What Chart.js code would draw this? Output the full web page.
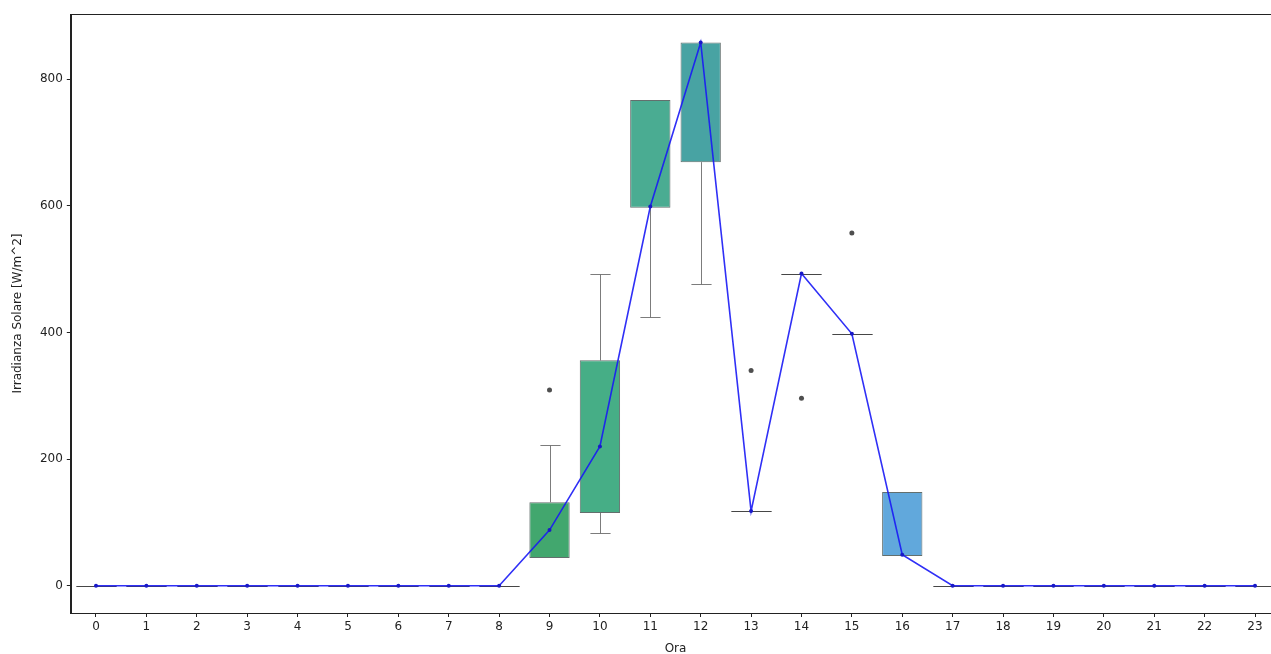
<!DOCTYPE html>
<html>
<head>
<meta charset="utf-8">
<script src="https://cdn.jsdelivr.net/npm/chart.js@4/dist/chart.umd.min.js"></script>
<style>
  html, body { margin: 0; padding: 0; background: #fff; overflow: hidden; width: 1271px; height: 654px; }
  #wrap { position: absolute; left: 0; top: 0; width: 1290px; height: 670px; }
</style>
</head>
<body>
<div id="wrap"><canvas id="c" width="1290" height="670"></canvas></div>
<script>
// Hourly solar irradiance distribution (box plot) with the median profile
const hours = ['0','1','2','3','4','5','6','7','8','9','10','11','12','13','14','15','16','17','18','19','20','21','22','23'];
const q1        = [0,0,0,0,0,0,0,0,0, 44,115,597,669,118,493,398, 47,0,0,0,0,0,0,0];
const q3        = [0,0,0,0,0,0,0,0,0,132,356,767,858,118,493,398,148,0,0,0,0,0,0,0];
const medians   = [0,0,0,0,0,0,0,0,0, 88,220,599,858,118,493,398, 49,0,0,0,0,0,0,0];
const whiskerLo = [0,0,0,0,0,0,0,0,0, 44, 83,425,476,118,493,398, 47,0,0,0,0,0,0,0];
const whiskerHi = [0,0,0,0,0,0,0,0,0,222,493,767,858,118,493,398,148,0,0,0,0,0,0,0];
const outlierHours  = ['9', '13', '14', '15'];
const outlierValues = [309, 340, 296, 557];
const yTicks = [0, 200, 400, 600, 800];

const boxColors = hours.map((h, i) => {
  const pal = { 9: 'rgba(56,162,102,0.95)', 10: 'rgba(60,170,128,0.95)', 11: 'rgba(64,168,140,0.95)',
                12: 'rgba(62,158,158,0.95)', 16: 'rgba(88,163,218,0.95)' };
  return pal[i] || 'rgba(90,160,150,0.95)';
});

// whiskers, caps and collapsed boxes drawn with the chart's own scales
const boxExtras = {
  id: 'boxExtras',
  beforeDatasetsDraw(chart) {
    const { ctx, scales: { x, y } } = chart;
    const unit = x.getPixelForValue(1) - x.getPixelForValue(0);
    ctx.save();
    ctx.lineWidth = 1;
    hours.forEach((h, i) => {
      const cx = Math.round(x.getPixelForValue(i)) + 0.5;
      ctx.strokeStyle = 'rgba(110,110,110,0.9)';
      ctx.beginPath();
      if (whiskerHi[i] > q3[i]) {
        const yh = Math.round(y.getPixelForValue(whiskerHi[i])) + 0.5;
        ctx.moveTo(cx, y.getPixelForValue(q3[i]));
        ctx.lineTo(cx, yh);
        ctx.moveTo(cx - unit * 0.2, yh);
        ctx.lineTo(cx + unit * 0.2, yh);
      }
      if (whiskerLo[i] < q1[i]) {
        const yl = Math.round(y.getPixelForValue(whiskerLo[i])) + 0.5;
        ctx.moveTo(cx, y.getPixelForValue(q1[i]));
        ctx.lineTo(cx, yl);
        ctx.moveTo(cx - unit * 0.2, yl);
        ctx.lineTo(cx + unit * 0.2, yl);
      }
      ctx.stroke();
      if (q1[i] === q3[i]) {
        const py = Math.round(y.getPixelForValue(q1[i])) + 0.5;
        ctx.strokeStyle = 'rgba(50,50,50,0.9)';
        ctx.beginPath();
        ctx.moveTo(cx - unit * 0.4, py);
        ctx.lineTo(cx + unit * 0.4, py);
        ctx.stroke();
      }
    });
    ctx.restore();
  },
  afterDraw(chart) {
    const { ctx, chartArea: a } = chart;
    ctx.save();
    ctx.strokeStyle = '#222';
    ctx.lineWidth = 1;
    ctx.strokeRect(Math.round(a.left) + 0.5, Math.round(a.top) + 0.5, Math.round(a.right - a.left), Math.round(a.bottom - a.top));
    ctx.restore();
  }
};

const tickFont = { family: 'DejaVu Sans', size: 12 };

new Chart(document.getElementById('c'), {
  data: {
    labels: hours,
    datasets: [
      {
        type: 'line',
        label: 'Mediana',
        data: medians,
        borderColor: 'rgba(25,25,245,0.9)',
        backgroundColor: 'rgba(25,25,200,1)',
        borderWidth: 1.6,
        pointRadius: 2,
        pointBorderWidth: 0,
        tension: 0,
        order: 0
      },
      {
        type: 'scatter',
        label: 'Outlier',
        data: outlierHours.map((h, k) => ({ x: h, y: outlierValues[k] })),
        backgroundColor: 'rgba(60,60,60,0.9)',
        borderWidth: 0,
        pointRadius: 2.5,
        order: 1
      },
      {
        type: 'bar',
        label: 'IQR',
        data: hours.map((h, i) => (q3[i] > q1[i] ? [q1[i], q3[i]] : null)),
        backgroundColor: boxColors,
        borderColor: 'rgba(60,75,72,0.8)',
        borderWidth: 1,
        borderSkipped: false,
        categoryPercentage: 0.8,
        barPercentage: 1,
        order: 2
      }
    ]
  },
  options: {
    responsive: false,
    animation: false,
    devicePixelRatio: 1,
    layout: { padding: { left: 0, top: 14, right: 9.8, bottom: 0 } },
    plugins: { legend: { display: false }, tooltip: { enabled: false } },
    scales: {
      x: {
        type: 'category',
        offset: true,
        grid: { display: true, drawOnChartArea: false, drawTicks: true, tickLength: 4, color: '#222', offset: false },
        border: { display: true, color: '#222' },
        ticks: { color: '#222', font: tickFont, padding: 3, maxRotation: 0, autoSkip: false },
        title: { display: true, text: 'Ora', color: '#222', font: tickFont, padding: { top: 0, bottom: 14 } },
        afterFit(s) { s.height = 57; }
      },
      y: {
        type: 'linear',
        min: -43,
        max: 903,
        afterBuildTicks(s) { s.ticks = yTicks.map(v => ({ value: v })); },
        grid: { display: true, drawOnChartArea: false, drawTicks: true, tickLength: 4, color: '#222' },
        border: { display: true, color: '#222' },
        ticks: { color: '#222', font: tickFont, padding: 4 },
        title: { display: true, text: 'Irradianza Solare [W/m^2]', color: '#222', font: tickFont, padding: { top: 10.5, bottom: 4 } },
        afterFit(s) { s.width = 70.8; }
      }
    }
  },
  plugins: [boxExtras]
});
</script>
</body>
</html>
